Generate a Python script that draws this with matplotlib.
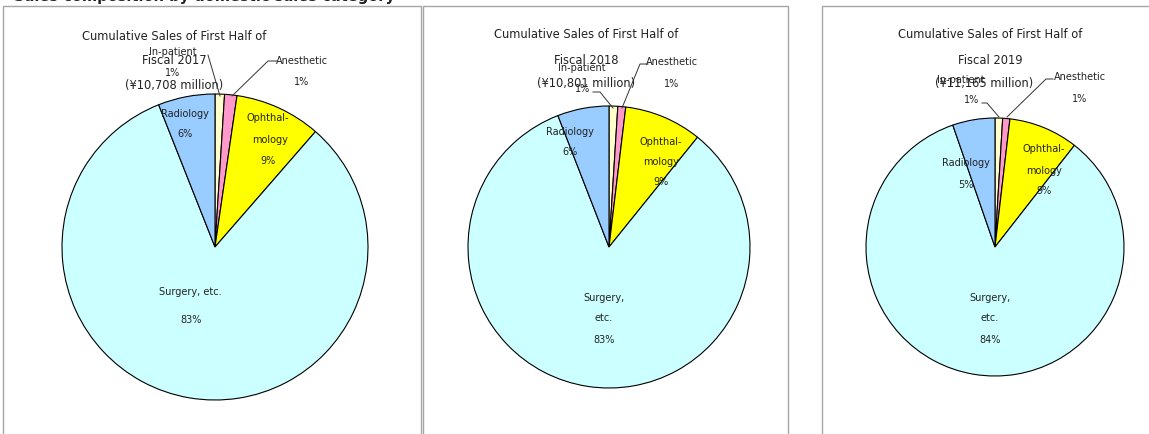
import matplotlib
matplotlib.use("Agg")
import matplotlib.pyplot as plt
from matplotlib.patches import Rectangle

# ---------------- data ----------------
categories = ["In-patient", "Anesthetic", "Ophthalmology", "Surgery, etc.", "Radiology"]
years = ["2017", "2018", "2019"]
totals = ["¥10,708 million", "¥10,801 million", "¥11,165 million"]
share_2017 = [1.0, 1.3, 9.1, 82.6, 6.0]
share_2018 = [1.0, 0.9, 8.9, 83.3, 5.9]
share_2019 = [0.95, 0.9, 8.7, 84.1, 5.3]
pct_labels_2017 = ["1%", "1%", "9%", "83%", "6%"]
pct_labels_2018 = ["1%", "1%", "9%", "83%", "6%"]
pct_labels_2019 = ["1%", "1%", "9%", "84%", "5%"]
shares = [share_2017, share_2018, share_2019]
pct_labels = [pct_labels_2017, pct_labels_2018, pct_labels_2019]

colors = ["#FFFFCC", "#FF99CC", "#FFFF00", "#CCFFFF", "#99CCFF"]

W, H = 1149, 435
fig = plt.figure(figsize=(W / 100, H / 100), dpi=100)
ax = fig.add_axes([0, 0, 1, 1])
plt.rcParams['font.family'] = ['DejaVu Sans']

def Y(y):
    return H - y

# panel frames (pixel layout)
panels = [(3, 7, 418), (423, 7, 365), (822, 7, 330)]
for (x0, y0, w) in panels:
    ax.add_patch(Rectangle((x0, Y(H + 5)), w, H + 5 - y0, fill=False,
                           edgecolor="#a6a6a6", lw=1.0, zorder=0))

# pie layout: center / radius in pixels
pie_geo = [((215, 248), 153), ((609, 248), 141), ((995, 248), 129)]

for i, (vals, (c, r)) in enumerate(zip(shares, pie_geo)):
    ax.pie(vals, colors=colors, startangle=90, counterclock=False,
           center=(c[0], Y(c[1])), radius=r, frame=True,
           wedgeprops=dict(edgecolor="black", linewidth=0.8))

tc = "#222222"
fs_t = 8.3
fs_l = 7.0

# titles
title_pos = [(174, 36, 60, 85), (586, 34, 60, 84), (990, 35, 60, 84)]
for (x, y1, y2, y3), yr, tot in zip(title_pos, years, totals):
    ax.text(x, Y(y1), "Cumulative Sales of First Half of", ha="center", va="center", fontsize=fs_t, color=tc)
    ax.text(x, Y(y2), f"Fiscal {yr}", ha="center", va="center", fontsize=fs_t, color=tc)
    ax.text(x + (0 if yr != "2019" else -6), Y(y3), f"({tot})", ha="center", va="center", fontsize=fs_t, color=tc)

# data labels (pixel positions)
label_pos = [
    {"In-patient": [(173, 52, "In-patient"), (173, 73, None)],
     "Anesthetic": [(302, 61, "Anesthetic"), (302, 82, None)],
     "Ophthalmology": [(268, 118, "Ophthal-"), (270, 140, "mology"), (268, 161, None)],
     "Surgery, etc.": [(190, 292, "Surgery, etc."), (191, 320, None)],
     "Radiology": [(185, 114, "Radiology"), (185, 134, None)]},
    {"In-patient": [(582, 68, "In-patient"), (583, 89, None)],
     "Anesthetic": [(672, 62, "Anesthetic"), (672, 84, None)],
     "Ophthalmology": [(661, 142, "Ophthal-"), (661, 162, "mology"), (661, 182, None)],
     "Surgery, etc.": [(604, 298, "Surgery,"), (604, 318, "etc."), (604, 340, None)],
     "Radiology": [(570, 132, "Radiology"), (570, 152, None)]},
    {"In-patient": [(961, 80, "In-patient"), (972, 100, None)],
     "Anesthetic": [(1080, 77, "Anesthetic"), (1080, 99, None)],
     "Ophthalmology": [(1044, 149, "Ophthal-"), (1044, 171, "mology"), (1044, 191, None)],
     "Surgery, etc.": [(990, 298, "Surgery,"), (990, 318, "etc."), (990, 340, None)],
     "Radiology": [(966, 163, "Radiology"), (966, 185, None)]},
]
leaders = [
    {"In-patient": [(208, 56), (220, 97)], "Anesthetic": [(277, 62), (268, 62), (232, 97)]},
    {"In-patient": [(593, 93), (600, 93), (613, 109)], "Anesthetic": [(648, 65), (640, 65), (622, 109)]},
    {"In-patient": [(982, 104), (987, 104), (999, 118)], "Anesthetic": [(1053, 80), (1046, 80), (1007, 118)]},
]

for i in range(3):
    for cat, pct in zip(categories, pct_labels[i]):
        for (x, y, txt) in label_pos[i][cat]:
            ax.text(x, Y(y), txt if txt is not None else pct, ha="center", va="center",
                    fontsize=fs_l, color=tc, zorder=5)
    for cat, pts in leaders[i].items():
        ax.plot([p[0] for p in pts], [Y(p[1]) for p in pts], color="#333333", lw=0.7, zorder=4)

# header text, mostly cut off at the top edge as in the reference
ax.text(14, Y(0.5), "Sales composition by domestic sales category", ha="left", va="baseline",
        fontsize=10.5, fontweight="bold", color="#222222")

ax.set_xlim(0, W)
ax.set_ylim(0, H)
ax.set_aspect("auto")
ax.axis("off")
fig.savefig("out.png", dpi=100)
